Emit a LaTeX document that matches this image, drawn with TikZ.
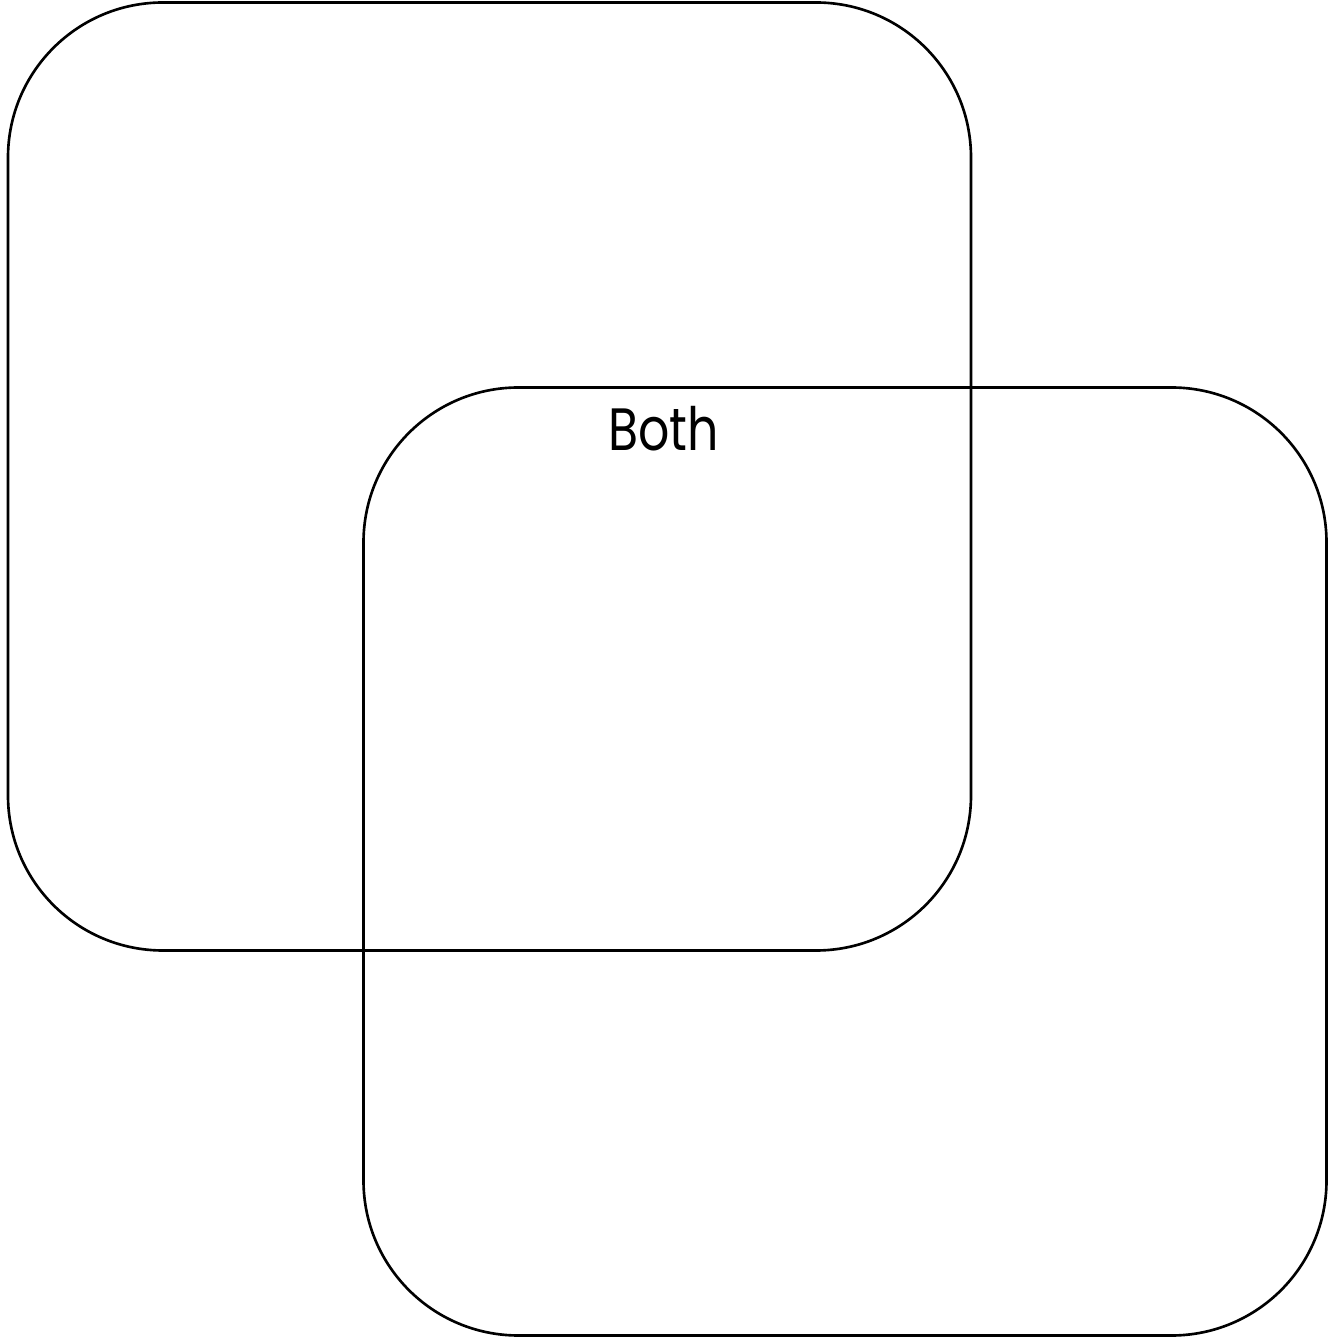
\documentclass[tikz,border=0pt]{standalone}
\usepackage{fontspec}
\setmainfont{Poppins}[FakeStretch=0.82]
\usepackage{tikz}
\usetikzlibrary{positioning}

\begin{document}
\begin{tikzpicture}[
      font=\fontsize{17}{20}\selectfont,
      setbox/.style={draw, line width=0.75pt, rounded corners=1.55cm,
                     minimum width=9.63cm, minimum height=9.48cm, inner sep=0pt},
      lbl/.style={inner sep=0pt, align=center},
    ]
    \useasboundingbox (0,0) rectangle (13.39,13.39);
    % ---- the two sets ----
    \node[setbox] (seta) at (4.895,8.625) {};
    \node[setbox] (setb) at (8.45,4.775) {};
    % ---- overlap label ----
    \node[lbl, anchor=north] (both) at (6.635,9.33) {Both};
  \end{tikzpicture}
\end{document}
